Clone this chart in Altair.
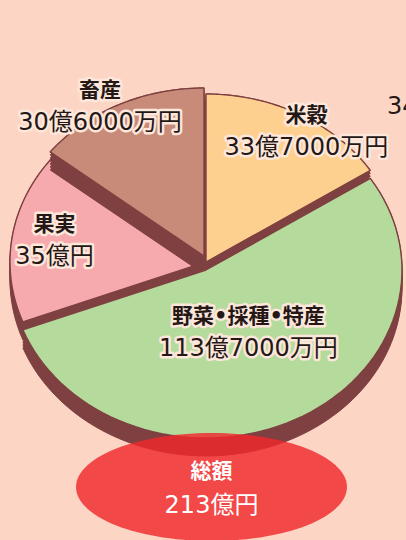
import altair as alt
import pandas as pd

# ---- data ----
categories = ["米穀", "野菜•採種•特産", "果実", "畜産"]
values = [33.7, 113.7, 35.0, 30.6]          # 億円
amount_labels = ["33億7000万円", "113億7000万円", "35億円", "30億6000万円"]
total_title = "総額"
total_label = "213億円"
stray_label = "34"

# ---- styles / layout ----
colors = ["#fdd08f", "#b4da9c", "#f6aaad", "#c88a79"]
draw_order = [0, 2, 3, 1]          # back to front
explode_x = [0, 0, 0, -2]
explode_y = [0, 8, 0, -6]
label_r = [0.926, 0.433, 0.783, 1.031]
label_turn = [5.1, -3.0, 0.7, -5.1]

W, H = 406, 540
CX, CY, RX, RY = 206, 262, 196, 168
DEPTH = 18
N = 72
EX, EY, ERX, ERY = 211.5, 487, 135.5, 54
BG = "#fdd5c4"
DARK = "#7e4040"
TEXT = "#231816"
HALO = "#fde6da"
RED = "#f0282d"
JP = "DejaVu Sans, Noto Sans CJK JP"
NUM = "DejaVu Sans, Noto Sans CJK JP"

df = pd.DataFrame({
    "ord": list(range(len(categories))),
    "name": categories,
    "value": values,
    "amount": amount_labels,
    "ox": explode_x,
    "oy": explode_y,
    "lr": label_r,
    "lt": label_turn,
})

xs = alt.Scale(domain=[0, W], nice=False, zero=False)
ys = alt.Scale(domain=[0, H], reverse=True, nice=False, zero=False)

base = (
    alt.Chart(df)
    .transform_joinaggregate(total="sum(value)")
    .transform_window(cum="sum(value)", sort=[alt.SortField("ord")], frame=[None, 0])
    .transform_calculate(
        a0="2*PI*(datum.cum - datum.value)/datum.total",
        a1="2*PI*datum.cum/datum.total",
    )
)


def poly(chart):
    return (
        chart.transform_calculate(k=f"sequence(0, {N + 3})")
        .transform_flatten(["k"])
        .transform_calculate(
            f=f"clamp((datum.k - 1) / {N}, 0, 1)",
        )
        .transform_calculate(
            ang="datum.a0 + (datum.a1 - datum.a0) * datum.f",
            rim=f"(datum.k == 0 || datum.k == {N + 2}) ? 0 : 1",
        )
        .transform_calculate(
            px=f"{CX} + datum.ox + datum.rim * {RX} * sin(datum.ang)",
            py=f"{CY} + datum.oy - datum.rim * {RY} * cos(datum.ang)",
        )
    )


layers = []
for i in draw_order:
    sl = base.transform_filter(alt.datum.ord == i)
    sweep = (
        poly(sl)
        .transform_calculate(dz=f"sequence(0, {DEPTH + 1}, 3)")
        .transform_flatten(["dz"])
        .transform_calculate(pyd="datum.py + datum.dz")
        .mark_line(fill=DARK, stroke=DARK, strokeWidth=1, strokeJoin="round")
        .encode(
            x=alt.X("px:Q", scale=xs, axis=None),
            y=alt.Y("pyd:Q", scale=ys, axis=None),
            order=alt.Order("k:Q"),
            detail="dz:Q",
        )
    )
    top = (
        poly(sl)
        .mark_line(fill=colors[i], stroke=DARK, strokeWidth=1.4, strokeJoin="round")
        .encode(
            x=alt.X("px:Q", scale=xs, axis=None),
            y=alt.Y("py:Q", scale=ys, axis=None),
            order=alt.Order("k:Q"),
        )
    )
    layers += [sweep, top]

lab = base.transform_calculate(
    mid="(datum.a0 + datum.a1)/2 + datum.lt*PI/180"
).transform_calculate(
    lx=f"{CX} + datum.ox + datum.lr*{RX}*sin(datum.mid)",
    ly=f"{CY} + datum.oy - datum.lr*{RY}*cos(datum.mid)",
)
lenc = dict(x=alt.X("lx:Q", scale=xs, axis=None), y=alt.Y("ly:Q", scale=ys, axis=None))

layers.append(lab.mark_text(dy=-16, fontSize=21, fontWeight="bold", font=JP, fill=HALO,
                            stroke=HALO, strokeWidth=5, strokeJoin="round").encode(text="name:N", **lenc))
layers.append(lab.mark_text(dy=-16, fontSize=21, fontWeight="bold", font=JP, fill=TEXT)
              .encode(text="name:N", **lenc))
layers.append(lab.mark_text(dy=16, fontSize=24, font=NUM, fill=HALO,
                            stroke=HALO, strokeWidth=5, strokeJoin="round").encode(text="amount:N", **lenc))
layers.append(lab.mark_text(dy=16, fontSize=24, font=NUM, fill=TEXT)
              .encode(text="amount:N", **lenc))

# total ellipse
ell = (
    alt.Chart(df)
    .transform_aggregate(total="sum(value)")
    .transform_calculate(k="sequence(0, 121)")
    .transform_flatten(["k"])
    .transform_calculate(ang="2*PI*datum.k/120")
    .transform_calculate(
        px=f"{EX} + {ERX}*sin(datum.ang)",
        py=f"{EY} - {ERY}*cos(datum.ang)",
    )
    .mark_line(fill=RED, fillOpacity=0.82, strokeOpacity=0)
    .encode(
        x=alt.X("px:Q", scale=xs, axis=None),
        y=alt.Y("py:Q", scale=ys, axis=None),
        order=alt.Order("k:Q"),
    )
)
layers.append(ell)

tot = alt.Chart(pd.DataFrame({"t": [total_title], "v": [total_label]}))
layers.append(tot.mark_text(fontSize=21, fontWeight="bold", font=JP, fill="white")
              .encode(x=alt.value(EX), y=alt.value(472), text="t:N"))
layers.append(tot.mark_text(fontSize=24, font=NUM, fill="white")
              .encode(x=alt.value(EX), y=alt.value(506), text="v:N"))

stray = alt.Chart(pd.DataFrame({"s": [stray_label]}))
layers.append(stray.mark_text(fontSize=24, font=NUM, fill=TEXT, align="left", baseline="alphabetic")
              .encode(x=alt.value(387), y=alt.value(114), text="s:N"))

chart = (
    alt.layer(*layers)
    .properties(width=W, height=H, padding=0, autosize="none", background=BG)
    .configure_view(strokeWidth=0)
)

chart.save("out.html", embed_options={"renderer": "svg", "actions": False})
